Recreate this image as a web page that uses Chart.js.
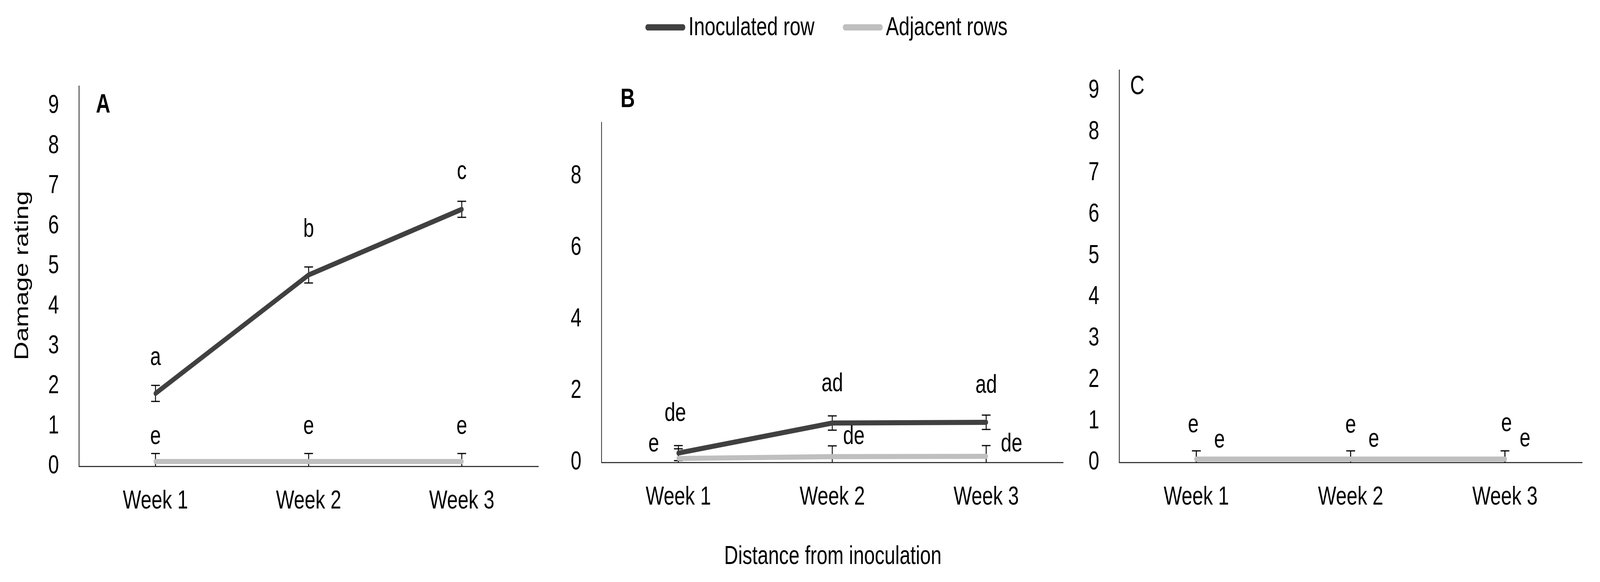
<!DOCTYPE html>
<html>
<head>
<meta charset="utf-8">
<script src="https://cdn.jsdelivr.net/npm/chart.js@4.4.1/dist/chart.umd.min.js"></script>
<style>
  html, body { margin: 0; padding: 0; background: #fff; overflow: hidden; }
  #frame { position: relative; overflow: hidden; background: #fff; }
  #page { position: absolute; left: 0; top: 0; width: 5454px; height: 1489px; transform-origin: 0 0;
          font-family: "Liberation Sans", Arial, sans-serif; color: #000; background: #fff; }
  canvas { position: absolute; top: 0; }
  .txt { position: absolute; font-size: 66px; line-height: 66px; white-space: nowrap; }
  .swatch { position: absolute; height: 16px; width: 136px; border-radius: 8px; }
  .panel { position: absolute; font-size: 68px; line-height: 68px; }
</style>
</head>
<body>
<div id="frame">
<div id="page">
  <div class="swatch" style="left:2200px; top:62px; background:#404040"></div>
  <div class="txt" style="left:2347px; top:34px">Inoculated row</div>
  <div class="swatch" style="left:2873px; top:62px; background:#bfbfbf"></div>
  <div class="txt" style="left:3020px; top:34px">Adjacent rows</div>

  <div class="txt" style="left:73px; top:705px; transform: translate(-50%, -50%) rotate(-90deg)">Damage rating</div>
  <div class="txt" style="left:2839px; top:1387px; transform: translateX(-50%)">Distance from inoculation</div>

  <div class="panel" style="left:327px; top:230px; font-weight:bold">A</div>
  <div class="panel" style="left:2115px; top:216px; font-weight:bold">B</div>
  <div class="panel" style="left:3852px; top:183px">C</div>

  <canvas id="chartA" width="1900" height="1489" style="left:0px; width:1900px; height:1489px"></canvas>
  <canvas id="chartB" width="1800" height="1489" style="left:1900px; width:1800px; height:1489px"></canvas>
  <canvas id="chartC" width="1754" height="1489" style="left:3700px; width:1754px; height:1489px"></canvas>
</div>
</div>
<script>
const weeks = ['Week 1', 'Week 2', 'Week 3'];

// panel A
const inocA = [1.82, 4.78, 6.42];
const inocAErr = [0.2, 0.2, 0.2];
const adjA = [0.12, 0.12, 0.12];
const adjAErr = [0.2, 0.2, 0.2];
const lettersInocA = ['a', 'b', 'c'];
const lettersAdjA = ['e', 'e', 'e'];

// panel B
const inocB = [0.26, 1.10, 1.12];
const inocBErr = [0.21, 0.2, 0.2];
const adjB = [0.11, 0.16, 0.17];
const adjBErr = [0.27, 0.3, 0.3];
const lettersInocB = ['de', 'ad', 'ad'];
const lettersAdjB = ['e', 'de', 'de'];

// panel C
const inocC = [0.08, 0.08, 0.08];
const inocCErr = [0.2, 0.2, 0.2];
const adjC = [0.08, 0.08, 0.08];
const adjCErr = [0.2, 0.2, 0.2];
const lettersInocC = ['e', 'e', 'e'];
const lettersAdjC = ['e', 'e', 'e'];

const yTicksA = [0, 1, 2, 3, 4, 5, 6, 7, 8, 9];
const yTicksB = [0, 2, 4, 6, 8];

// where the letters sit: [shift in category widths, height on the rating scale]
const spotsInocA = [[0, 2.71], [0, 5.91], [0, 7.35]];
const spotsAdjA = [[0, 0.73], [0, 0.99], [0, 0.99]];
const spotsInocB = [[-0.02, 1.36], [0, 2.19], [0, 2.14]];
const spotsAdjB = [[-0.16, 0.5], [0.14, 0.71], [0.165, 0.5]];
const spotsInocC = [[-0.02, 0.9], [0, 0.89], [0.01, 0.93]];
const spotsAdjC = [[0.15, 0.53], [0.15, 0.55], [0.13, 0.56]];

// the window may come out narrower than 5454px, so stretch the figure to fill it
const sx = window.innerWidth / 5454;
const sy = window.innerHeight / 1489;
const frame = document.getElementById('frame');
frame.style.width = window.innerWidth + 'px';
frame.style.height = window.innerHeight + 'px';
document.getElementById('page').style.transform = 'scale(' + sx + ',' + sy + ')';
const ratio = (window.devicePixelRatio || 1) * Math.max(sx, sy);

Chart.defaults.font.family = '"Liberation Sans", Arial, sans-serif';
Chart.defaults.font.size = 66;
Chart.defaults.color = '#000';

const DARK = '#404040';
const LIGHT = '#bfbfbf';
const AXIS = '#3a3a3a';

const errorBars = {
    id: 'errorBars',
    beforeDatasetsDraw(chart) {
        const { ctx, chartArea, scales } = chart;
        ctx.save();
        ctx.beginPath();
        ctx.rect(chartArea.left, chartArea.top, chartArea.right - chartArea.left, chartArea.bottom - chartArea.top + 2);
        ctx.clip();
        ctx.strokeStyle = '#000';
        ctx.lineWidth = 3;
        chart.data.datasets.forEach((ds, i) => {
            const meta = chart.getDatasetMeta(i);
            ds.data.forEach((v, j) => {
                const x = meta.data[j].x;
                const top = scales.y.getPixelForValue(v + ds.errors[j]);
                const low = v - ds.errors[j];
                const bot = scales.y.getPixelForValue(Math.max(low, 0));
                ctx.beginPath();
                ctx.moveTo(x, top);
                ctx.lineTo(x, bot);
                ctx.moveTo(x - 15, top);
                ctx.lineTo(x + 15, top);
                if (low > 0) {
                    ctx.moveTo(x - 15, bot);
                    ctx.lineTo(x + 15, bot);
                }
                ctx.stroke();
            });
        });
        ctx.restore();
    }
};

const letterMarks = {
    id: 'letterMarks',
    afterDatasetsDraw(chart) {
        const { ctx, scales } = chart;
        const band = scales.x.getPixelForValue(1) - scales.x.getPixelForValue(0);
        ctx.save();
        ctx.font = '66px "Liberation Sans", Arial, sans-serif';
        ctx.fillStyle = '#000';
        ctx.textAlign = 'center';
        ctx.textBaseline = 'middle';
        chart.data.datasets.forEach(ds => {
            ds.letters.forEach((t, j) => {
                const [dx, yv] = ds.spots[j];
                ctx.fillText(t, scales.x.getPixelForValue(j) + dx * band, scales.y.getPixelForValue(yv));
            });
        });
        ctx.restore();
    }
};

function makePanel(id, p) {
    return new Chart(document.getElementById(id), {
        type: 'line',
        data: {
            labels: weeks,
            datasets: [
                {
                    label: 'Inoculated row', data: p.inoc, errors: p.inocErr,
                    letters: p.lettersInoc, spots: p.spotsInoc,
                    borderColor: DARK, borderWidth: 13, borderCapStyle: 'round',
                    pointRadius: 0, order: 1
                },
                {
                    label: 'Adjacent rows', data: p.adj, errors: p.adjErr,
                    letters: p.lettersAdj, spots: p.spotsAdj,
                    borderColor: LIGHT, borderWidth: 13, borderCapStyle: 'round',
                    pointRadius: 0, order: 0
                }
            ]
        },
        options: {
            responsive: false,
            animation: false,
            devicePixelRatio: ratio,
            layout: { padding: { top: p.top, right: p.right, left: 0, bottom: 0 } },
            plugins: { legend: { display: false }, tooltip: { enabled: false } },
            scales: {
                x: {
                    offset: true,
                    grid: { display: false, drawTicks: false },
                    border: { display: true, color: AXIS, width: 3 },
                    ticks: { padding: 50 },
                    afterFit(s) { s.height = p.below; }
                },
                y: {
                    min: 0, max: 9.5,
                    afterBuildTicks(s) { s.ticks = p.yTicks.map(v => ({ value: v })); },
                    grid: { display: false, drawTicks: false },
                    border: { display: true, color: AXIS, width: 3 },
                    ticks: { padding: 68 },
                    afterFit(s) { s.width = p.axisX; }
                }
            }
        },
        plugins: [errorBars, letterMarks]
    });
}

makePanel('chartA', {
    inoc: inocA, inocErr: inocAErr, adj: adjA, adjErr: adjAErr,
    lettersInoc: lettersInocA, lettersAdj: lettersAdjA,
    spotsInoc: spotsInocA, spotsAdj: spotsAdjA,
    yTicks: yTicksA, top: 220, right: 65, below: 296, axisX: 269
});
makePanel('chartB', {
    inoc: inocB, inocErr: inocBErr, adj: adjB, adjErr: adjBErr,
    lettersInoc: lettersInocB, lettersAdj: lettersAdjB,
    spotsInoc: spotsInocB, spotsAdj: spotsAdjB,
    yTicks: yTicksB, top: 313, right: 76, below: 306, axisX: 150
});
makePanel('chartC', {
    inoc: inocC, inocErr: inocCErr, adj: adjC, adjErr: adjCErr,
    lettersInoc: lettersInocC, lettersAdj: lettersAdjC,
    spotsInoc: spotsInocC, spotsAdj: spotsAdjC,
    yTicks: yTicksA, top: 179, right: 61, below: 306, axisX: 115
});
</script>
</body>
</html>
